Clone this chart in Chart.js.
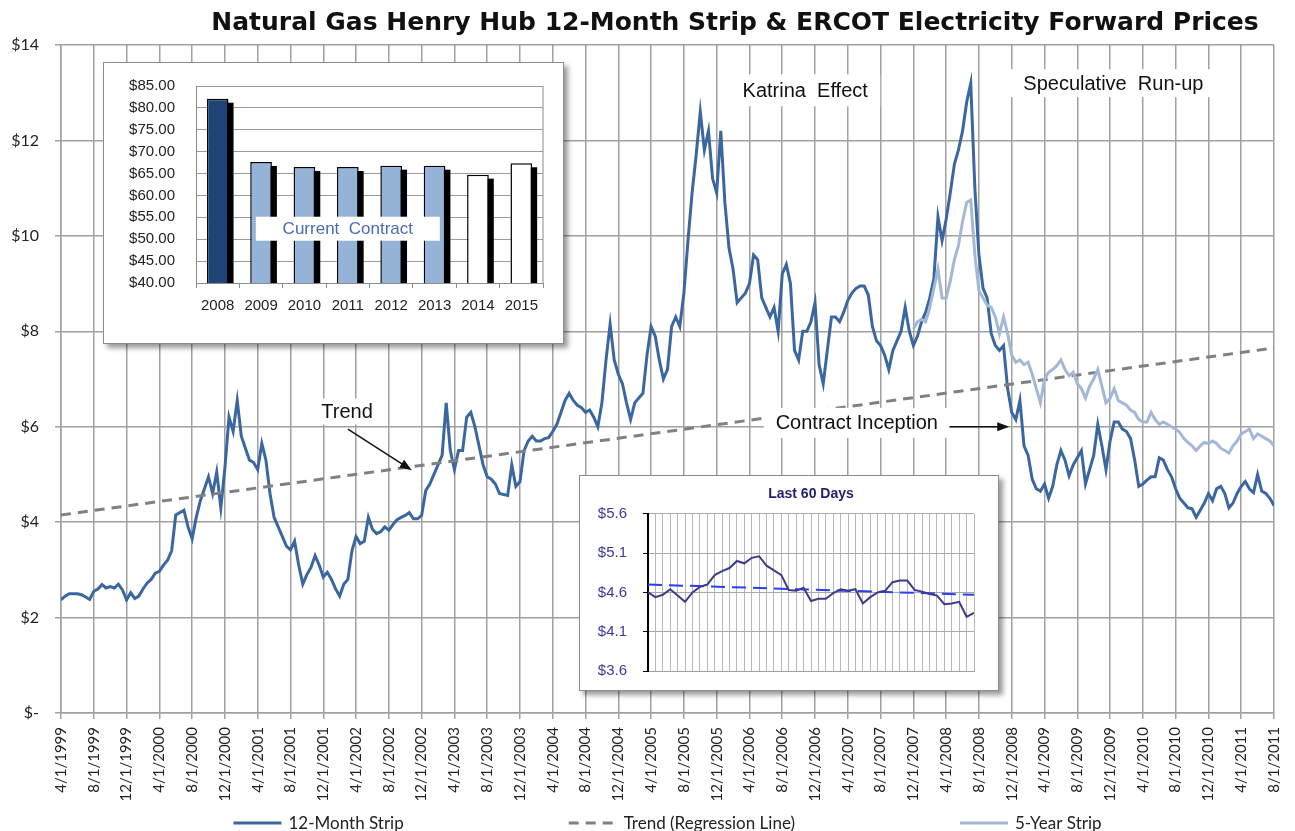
<!DOCTYPE html>
<html>
<head>
<meta charset="utf-8">
<script src="https://cdn.jsdelivr.net/npm/chart.js@4.4.0/dist/chart.umd.min.js"></script>
<style>
html, body { margin: 0; padding: 0; background: #fff; }
#wrap { position: relative; width: 1295px; height: 831px; }
#main { position: absolute; left: 0; top: 0; }
.inset { position: absolute; background: #fff; border: 1px solid #8c8c8c; box-shadow: 4px 4px 5px rgba(0,0,0,0.4); }
.inset canvas { display: block; }
#barBox { left: 103px; top: 62px; width: 459px; height: 280px; }
#dayBox { left: 579px; top: 475px; width: 418px; height: 214px; }
</style>
</head>
<body>
<div id="wrap">
  <canvas id="main" width="1295" height="831"></canvas>
  <div class="inset" id="barBox"><canvas id="bars" width="459" height="280"></canvas></div>
  <div class="inset" id="dayBox"><canvas id="days" width="418" height="214"></canvas></div>
</div>
<script>
// DATA

const mainTitle = 'Natural Gas Henry Hub 12-Month Strip & ERCOT Electricity Forward Prices';

const tickLabels = ['4/1/1999','8/1/1999','12/1/1999','4/1/2000','8/1/2000','12/1/2000',
  '4/1/2001','8/1/2001','12/1/2001','4/1/2002','8/1/2002','12/1/2002',
  '4/1/2003','8/1/2003','12/1/2003','4/1/2004','8/1/2004','12/1/2004',
  '4/1/2005','8/1/2005','12/1/2005','4/1/2006','8/1/2006','12/1/2006',
  '4/1/2007','8/1/2007','12/1/2007','4/1/2008','8/1/2008','12/1/2008',
  '4/1/2009','8/1/2009','12/1/2009','4/1/2010','8/1/2010','12/1/2010',
  '4/1/2011','8/1/2011'];

// 12-month strip, one value every half month starting 4/1/1999
const stripValues = [
  2.37, 2.45, 2.5, 2.5, 2.5, 2.48, 2.43, 2.38, 2.55, 2.6, 2.69, 2.62,
  2.65, 2.62, 2.7, 2.58, 2.37, 2.52, 2.4, 2.45, 2.6, 2.72, 2.8, 2.93,
  2.97, 3.1, 3.2, 3.4, 4.15, 4.2, 4.25, 3.9, 3.65, 4.1, 4.45, 4.7,
  4.95, 4.6, 5.05, 4.3, 5.14, 6.2, 5.9, 6.55, 5.8, 5.55, 5.3, 5.25,
  5.1, 5.65, 5.3, 4.6, 4.1, 3.9, 3.7, 3.5, 3.42, 3.6, 3.1, 2.7,
  2.9, 3.05, 3.3, 3.1, 2.85, 2.95, 2.8, 2.6, 2.45, 2.7, 2.8, 3.4,
  3.7, 3.55, 3.6, 4.1, 3.85, 3.76, 3.8, 3.9, 3.83, 3.95, 4.05, 4.1,
  4.14, 4.2, 4.07, 4.07, 4.14, 4.66, 4.8, 5.0, 5.2, 5.4, 6.5, 5.5,
  5.1, 5.5, 5.5, 6.2, 6.3, 6.0, 5.6, 5.2, 4.95, 4.9, 4.8, 4.6,
  4.58, 4.56, 5.2, 4.75, 4.85, 5.5, 5.7, 5.8, 5.7, 5.7, 5.75, 5.77,
  5.9, 6.05, 6.3, 6.55, 6.7, 6.55, 6.45, 6.4, 6.3, 6.35, 6.2, 6.0,
  6.5, 7.4, 8.15, 7.4, 7.1, 6.9, 6.5, 6.15, 6.5, 6.6, 6.7, 7.5,
  8.1, 7.9, 7.4, 7.0, 7.2, 8.1, 8.3, 8.1, 8.8, 9.9, 10.9, 11.7,
  12.6, 11.8, 12.2, 11.2, 10.9, 12.2, 10.7, 9.75, 9.3, 8.6, 8.7, 8.8,
  9.0, 9.6, 9.5, 8.7, 8.5, 8.3, 8.5, 8.0, 9.2, 9.4, 9.0, 7.6,
  7.4, 8.0, 8.0, 8.2, 8.6, 7.3, 6.9, 7.6, 8.3, 8.3, 8.2, 8.4,
  8.65, 8.8, 8.9, 8.95, 8.95, 8.76, 8.1, 7.8, 7.7, 7.5, 7.2, 7.6,
  7.8, 8.0, 8.5, 8.0, 7.7, 7.9, 8.2, 8.4, 8.7, 9.1, 10.4, 9.9,
  10.35, 10.9, 11.5, 11.8, 12.2, 12.8, 13.2, 11.0, 9.6, 8.9, 8.7, 7.95,
  7.7, 7.6, 7.7, 6.8, 6.3, 6.15, 6.55, 5.6, 5.4, 4.9, 4.7, 4.65,
  4.8, 4.5, 4.75, 5.2, 5.5, 5.3, 4.97, 5.2, 5.35, 5.5, 4.8, 5.1,
  5.4, 6.05, 5.6, 5.1, 5.7, 6.1, 6.1, 5.95, 5.9, 5.75, 5.3, 4.75,
  4.8, 4.88, 4.95, 4.95, 5.35, 5.3, 5.1, 4.95, 4.7, 4.5, 4.4, 4.3,
  4.28, 4.1, 4.25, 4.4, 4.6, 4.45, 4.7, 4.75, 4.6, 4.3, 4.4, 4.6,
  4.75, 4.85, 4.7, 4.62, 5.0, 4.65, 4.6, 4.5,
  4.35
];

// 5-year strip starts 104 months after 4/1/1999, half-month steps
const fiveYearStart = 104;
const fiveYearValues = [
  8.05, 8.2, 8.25, 8.2, 8.5, 8.9, 9.3, 8.7, 8.7, 9.05, 9.5, 9.8,
  10.3, 10.7, 10.75, 9.6, 8.85, 8.7, 8.55, 8.5, 8.3, 7.95, 8.3, 7.95,
  7.5, 7.35, 7.4, 7.3, 7.35, 7.1, 6.8, 6.5, 7.0, 7.14, 7.2, 7.28,
  7.4, 7.2, 7.07, 7.14, 6.9, 6.8, 6.6, 6.85, 7.0, 7.2, 6.85, 6.5,
  6.6, 6.8, 6.55, 6.5, 6.45, 6.35, 6.3, 6.15, 6.1, 6.1, 6.3, 6.15,
  6.05, 6.1, 6.05, 6.0, 5.95, 5.88, 5.75, 5.67, 5.6, 5.5, 5.6, 5.67,
  5.65, 5.7, 5.65, 5.55, 5.5, 5.45, 5.6, 5.7, 5.85, 5.9, 5.95, 5.75,
  5.85, 5.8, 5.75, 5.7, 5.6
];

// regression line ends (4/1/1999 and 8/1/2011)
const trendValues = [4.15, 7.65];

// inset: current contract
const barYears = ['2008', '2009', '2010', '2011', '2012', '2013', '2014', '2015'];
const barValues = [82.1, 67.65, 66.5, 66.5, 66.8, 66.8, 64.75, 67.35];
const barColors = ['#1f4478', '#95b3d7', '#95b3d7', '#95b3d7', '#95b3d7', '#95b3d7', '#ffffff', '#ffffff'];

// inset: last 60 days
const dayValues = [4.6, 4.54, 4.57, 4.64, 4.56, 4.48, 4.6, 4.67, 4.7, 4.82,
  4.87, 4.91, 5.0, 4.97, 5.04, 5.06, 4.94, 4.88, 4.82, 4.63,
  4.62, 4.66, 4.49, 4.52, 4.52, 4.59, 4.64, 4.62, 4.64, 4.46,
  4.54, 4.6, 4.62, 4.73, 4.75, 4.75, 4.63, 4.61, 4.58, 4.56,
  4.45, 4.46, 4.48, 4.29, 4.34];
const dayTrend = [4.70, 4.57];

// notes on the main chart, placed in axis units (months, $)
const notes = [
  {text: 'Katrina  Effect', m: 90.8, v: 13.05, w: 150, h: 32},
  {text: 'Speculative  Run-up', m: 128.4, v: 13.2, w: 210, h: 28},
  {text: 'Trend', m: 34.9, v: 6.32, w: 64, h: 26},
  {text: 'Contract Inception', m: 97.1, v: 6.08, w: 186, h: 30}
];
const arrows = [
  {from: [35.0, 5.95], to: [42.8, 5.09]},
  {from: [108.4, 6.0], to: [115.7, 6.0]}
];

Chart.defaults.font.family = 'Lato';

const halfMonthPoints = (vals, start) => vals.map((v, i) => ({x: start + i / 2, y: v}));

// y axes: keep the label padding from pushing the plot area in
const flatY = width => s => { s.width = width; s.paddingTop = 0; s.paddingBottom = 0; };

// MAIN CHART

const titlePlugin = {
  id: 'mainTitle',
  afterDraw(chart) {
    const ctx = chart.ctx;
    ctx.save();
    ctx.font = 'bold 25px "DejaVu Sans"';
    ctx.fillStyle = '#111';
    ctx.textAlign = 'center';
    ctx.textBaseline = 'middle';
    ctx.fillText(mainTitle, 735, 23);
    ctx.restore();
  }
};

const notesPlugin = {
  id: 'notes',
  afterDatasetsDraw(chart) {
    const ctx = chart.ctx, xs = chart.scales.x, ys = chart.scales.y;
    ctx.save();
    ctx.font = '20px "Liberation Sans"';
    ctx.textAlign = 'center';
    ctx.textBaseline = 'middle';
    notes.forEach(n => {
      const x = xs.getPixelForValue(n.m), y = ys.getPixelForValue(n.v);
      ctx.fillStyle = '#fff';
      ctx.fillRect(x - n.w / 2, y - n.h / 2, n.w, n.h);
      ctx.fillStyle = '#111';
      ctx.fillText(n.text, x, y + 1);
    });
    arrows.forEach(a => {
      const x0 = xs.getPixelForValue(a.from[0]), y0 = ys.getPixelForValue(a.from[1]);
      const x1 = xs.getPixelForValue(a.to[0]), y1 = ys.getPixelForValue(a.to[1]);
      const ang = Math.atan2(y1 - y0, x1 - x0);
      ctx.strokeStyle = '#111';
      ctx.fillStyle = '#111';
      ctx.lineWidth = 1.5;
      ctx.beginPath();
      ctx.moveTo(x0, y0);
      ctx.lineTo(x1 - 8 * Math.cos(ang), y1 - 8 * Math.sin(ang));
      ctx.stroke();
      ctx.beginPath();
      ctx.moveTo(x1, y1);
      ctx.lineTo(x1 - 12 * Math.cos(ang) + 4.5 * Math.sin(ang), y1 - 12 * Math.sin(ang) - 4.5 * Math.cos(ang));
      ctx.lineTo(x1 - 12 * Math.cos(ang) - 4.5 * Math.sin(ang), y1 - 12 * Math.sin(ang) + 4.5 * Math.cos(ang));
      ctx.closePath();
      ctx.fill();
    });
    ctx.restore();
  }
};

const legendPlugin = {
  id: 'bottomLegend',
  afterDraw(chart) {
    const ctx = chart.ctx;
    ctx.save();
    ctx.font = '17px Lato';
    ctx.textBaseline = 'middle';
    const sample = 48, gap = 7, space = 165, y = 823;
    const items = chart.data.datasets.map(d => ({d, w: sample + gap + ctx.measureText(d.label).width}));
    const total = items.reduce((s, it) => s + it.w, 0) + space * (items.length - 1);
    let x = (chart.chartArea.left + chart.chartArea.right) / 2 - total / 2;
    items.forEach(({d, w}) => {
      ctx.strokeStyle = d.borderColor;
      ctx.lineWidth = 3;
      ctx.setLineDash(d.borderDash || []);
      ctx.beginPath();
      ctx.moveTo(x, y);
      ctx.lineTo(x + sample, y);
      ctx.stroke();
      ctx.setLineDash([]);
      ctx.fillStyle = '#222';
      ctx.fillText(d.label, x + sample + gap, y + 1);
      x += w + space;
    });
    ctx.restore();
  }
};

const gridGray = '#a0a0a0';

new Chart(document.getElementById('main'), {
  type: 'line',
  data: {
    datasets: [
      {label: '12-Month Strip', data: halfMonthPoints(stripValues, 0), borderColor: '#3b67a0', borderWidth: 3, pointRadius: 0, order: 3},
      {label: 'Trend (Regression Line)', data: [{x: 0, y: trendValues[0]}, {x: 148, y: trendValues[1]}], borderColor: '#808080', borderWidth: 3, borderDash: [10, 7], pointRadius: 0, order: 2},
      {label: '5-Year Strip', data: halfMonthPoints(fiveYearValues, fiveYearStart), borderColor: '#a3b8d6', borderWidth: 3, pointRadius: 0, order: 1}
    ]
  },
  options: {
    responsive: false,
    animation: false,
    layout: {padding: {top: 45, right: 21, bottom: 31, left: 0}},
    elements: {line: {tension: 0}},
    plugins: {legend: {display: false}, tooltip: {enabled: false}},
    scales: {
      x: {
        type: 'linear', min: 0, max: 148,
        afterFit: s => { s.height = 87; s.paddingLeft = 0; s.paddingRight = 0; },
        ticks: {stepSize: 4, autoSkip: false, minRotation: 90, maxRotation: 90, padding: 8, color: '#222', font: {size: 15},
          callback: v => tickLabels[v / 4]},
        grid: {color: gridGray, lineWidth: 1.5, tickLength: 6},
        border: {color: gridGray, width: 1.5}
      },
      y: {
        min: 0, max: 14,
        afterFit: flatY(61),
        ticks: {stepSize: 2, padding: 16, color: '#222', font: {size: 16},
          callback: v => v === 0 ? '$-' : '$' + v},
        grid: {color: gridGray, lineWidth: 1.5, tickLength: 6},
        border: {color: gridGray, width: 1.5}
      }
    }
  },
  plugins: [titlePlugin, notesPlugin, legendPlugin]
});

// INSET: CURRENT CONTRACT BARS

const barShadow = {
  id: 'barShadow',
  beforeDatasetsDraw(chart) {
    const ctx = chart.ctx, bottom = chart.chartArea.bottom;
    ctx.save();
    ctx.fillStyle = '#000';
    chart.getDatasetMeta(0).data.forEach(b => {
      const {x, y, width} = b.getProps(['x', 'y', 'width'], true);
      ctx.fillRect(x - width / 2 + 5, y + 4, width, bottom - y - 4);
    });
    ctx.restore();
  },
  afterDatasetsDraw(chart) {
    const ctx = chart.ctx, a = chart.chartArea;
    ctx.save();
    ctx.strokeStyle = '#8c8c8c';
    ctx.lineWidth = 1;
    ctx.beginPath();
    ctx.moveTo(a.right, a.top);
    ctx.lineTo(a.right, a.bottom);
    ctx.stroke();
    // "Current Contract" label
    const x = chart.scales.x.getPixelForValue(3), y = chart.scales.y.getPixelForValue(52.4);
    ctx.fillStyle = '#fff';
    ctx.fillRect(x - 92, y - 12, 184, 24);
    ctx.font = '17px "Liberation Sans"';
    ctx.fillStyle = '#4a6bb0';
    ctx.textAlign = 'center';
    ctx.textBaseline = 'middle';
    ctx.fillText('Current  Contract', x, y + 1);
    ctx.restore();
  }
};

new Chart(document.getElementById('bars'), {
  type: 'bar',
  data: {
    labels: barYears,
    datasets: [{data: barValues, backgroundColor: barColors, borderColor: '#000', borderWidth: 1.5, barPercentage: 0.5, categoryPercentage: 1}]
  },
  options: {
    responsive: false,
    animation: false,
    layout: {padding: {top: 23, right: 20, bottom: 0, left: 0}},
    plugins: {legend: {display: false}, tooltip: {enabled: false}},
    scales: {
      x: {
        afterFit: s => { s.height = 60; },
        ticks: {color: '#222', padding: 9, font: {family: 'Liberation Sans', size: 15}},
        grid: {offset: true, drawOnChartArea: false, tickLength: 5, color: '#8c8c8c'},
        border: {color: '#8c8c8c'}
      },
      y: {
        min: 40, max: 85,
        afterFit: flatY(92),
        ticks: {stepSize: 5, padding: 21, color: '#222', font: {family: 'Liberation Sans', size: 15},
          callback: v => '$' + v.toFixed(2)},
        grid: {color: '#9a9a9a', drawTicks: false},
        border: {color: '#8c8c8c'}
      }
    }
  },
  plugins: [barShadow]
});

// INSET: LAST 60 DAYS

new Chart(document.getElementById('days'), {
  type: 'line',
  data: {
    datasets: [
      {data: dayValues.map((v, i) => ({x: i, y: v})), borderColor: '#3c3c8c', borderWidth: 2, pointRadius: 0},
      {data: [{x: 0, y: dayTrend[0]}, {x: dayValues.length - 1, y: dayTrend[1]}], borderColor: '#2b3df2', borderWidth: 2, borderDash: [14, 7], pointRadius: 0}
    ]
  },
  options: {
    responsive: false,
    animation: false,
    layout: {padding: {top: 0, right: 24, bottom: 19, left: 0}},
    elements: {line: {tension: 0}},
    plugins: {
      legend: {display: false},
      tooltip: {enabled: false},
      title: {display: true, text: 'Last 60 Days', color: '#1f1f6e', fullSize: false,
        font: {family: 'Liberation Sans', size: 14, weight: 'bold'}, padding: {top: 10, bottom: 11}}
    },
    scales: {
      x: {
        type: 'linear', min: 0, max: dayValues.length - 1,
        afterFit: s => { s.height = 0; },
        ticks: {display: false, stepSize: 1, autoSkip: false},
        grid: {color: '#b8b8b8', drawTicks: false},
        border: {color: '#a0a0a0'}
      },
      y: {
        min: 3.6, max: 5.6,
        afterFit: flatY(68),
        ticks: {stepSize: 0.5, padding: 16, color: '#3a3a9e', font: {family: 'Liberation Sans', size: 15},
          callback: v => '$' + v.toFixed(1)},
        grid: {color: '#a8a8a8', tickLength: 5, tickColor: '#000'},
        border: {color: '#000', width: 2}
      }
    }
  }
});
</script>
</body>
</html>
